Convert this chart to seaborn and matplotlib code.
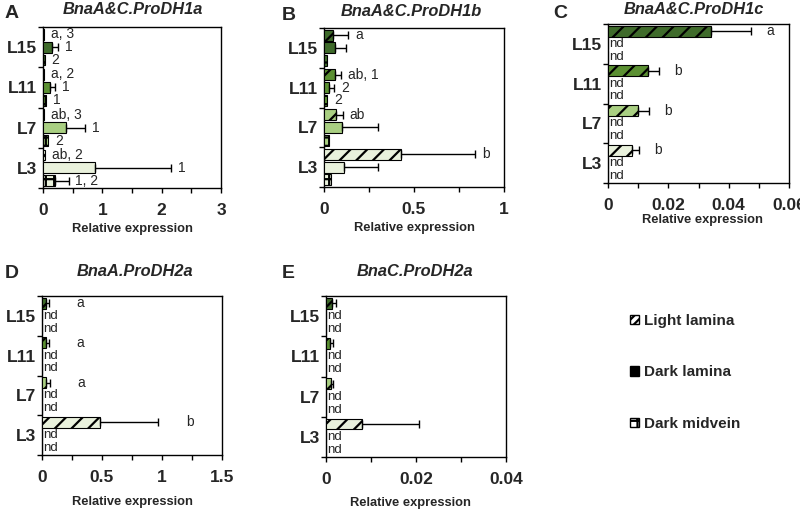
import numpy as np
import pandas as pd
import matplotlib
matplotlib.use("Agg")
import matplotlib.pyplot as plt
import seaborn as sns
from matplotlib.patches import Patch
from matplotlib.ticker import MultipleLocator, FixedLocator, FuncFormatter

# ---------------- data ----------------
leaves = ["L15", "L11", "L7", "L3"]
tissues = ["Light lamina", "Dark lamina", "Dark midvein"]
leaf_colors = ["#3f6b2b", "#5b9032", "#a9cf82", "#e9f1dc"]

# Panel A  BnaA&C.ProDH1a
A_light = [0.01, 0.01, 0.01, 0.04]
A_light_sd = [0, 0, 0, 0]
A_light_lbl = ["a, 3", "a, 2", "ab, 3", "ab, 2"]
A_dark = [0.15, 0.12, 0.38, 0.88]
A_dark_sd = [0.11, 0.09, 0.33, 1.28]
A_dark_lbl = ["1", "1", "1", "1"]
A_mid = [0.03, 0.05, 0.09, 0.20]
A_mid_sd = [0, 0, 0, 0.23]
A_mid_lbl = ["2", "1", "2", "1, 2"]

# Panel B  BnaA&C.ProDH1b
B_light = [0.050, 0.063, 0.065, 0.425]
B_light_sd = [0.084, 0.030, 0.040, 0.415]
B_light_lbl = ["a", "ab, 1", "ab", "b"]
B_dark = [0.060, 0.028, 0.100, 0.110]
B_dark_sd = [0.060, 0.028, 0.200, 0.190]
B_dark_lbl = ["", "2", "", ""]
B_mid = [0.019, 0.017, 0.028, 0.040]
B_mid_sd = [0, 0, 0, 0]
B_mid_lbl = ["", "2", "", ""]

# Panel C  BnaA&C.ProDH1c
C_light = [0.0343, 0.0133, 0.0100, 0.0078]
C_light_sd = [0.0132, 0.0036, 0.0036, 0.0025]
C_light_lbl = ["a", "b", "b", "b"]
C_dark = [0, 0, 0, 0]
C_dark_sd = [0, 0, 0, 0]
C_dark_lbl = ["nd", "nd", "nd", "nd"]
C_mid = [0, 0, 0, 0]
C_mid_sd = [0, 0, 0, 0]
C_mid_lbl = ["nd", "nd", "nd", "nd"]

# Panel D  BnaA.ProDH2a
D_light = [0.036, 0.036, 0.030, 0.486]
D_light_sd = [0.020, 0.020, 0.034, 0.480]
D_light_lbl = ["a", "a", "a", "b"]
D_dark = [0, 0, 0, 0]
D_dark_sd = [0, 0, 0, 0]
D_dark_lbl = ["nd", "nd", "nd", "nd"]
D_mid = [0, 0, 0, 0]
D_mid_sd = [0, 0, 0, 0]
D_mid_lbl = ["nd", "nd", "nd", "nd"]

# Panel E  BnaC.ProDH2a
E_light = [0.0013, 0.0009, 0.0011, 0.0081]
E_light_sd = [0.0009, 0.0006, 0.0005, 0.0126]
E_light_lbl = ["", "", "", ""]
E_dark = [0, 0, 0, 0]
E_dark_sd = [0, 0, 0, 0]
E_dark_lbl = ["nd", "nd", "nd", "nd"]
E_mid = [0, 0, 0, 0]
E_mid_sd = [0, 0, 0, 0]
E_mid_lbl = ["nd", "nd", "nd", "nd"]

titles = ["BnaA&C.ProDH1a", "BnaA&C.ProDH1b", "BnaA&C.ProDH1c",
          "BnaA.ProDH2a", "BnaC.ProDH2a"]
letters = ["A", "B", "C", "D", "E"]

# ---------------- style ----------------
sns.set_style("ticks")
plt.rcParams["font.family"] = ["Liberation Sans", "DejaVu Sans"]
plt.rcParams["hatch.linewidth"] = 1.6
plt.rcParams["axes.linewidth"] = 1.0

hatches = ["//", "", "++"]

fig = plt.figure(figsize=(8, 5.12), dpi=100)
W, H = 800.0, 512.0


def box(left, top, right, bottom):
    return [left / W, 1 - bottom / H, (right - left) / W, (bottom - top) / H]


panels = [
    dict(rect=box(43, 27, 221, 188), xlim=3, major=1, minor=0.5, pad=5,
         v=[A_light, A_dark, A_mid], s=[A_light_sd, A_dark_sd, A_mid_sd],
         l=[A_light_lbl, A_dark_lbl, A_mid_lbl],
         letter=(5, 14), title=(133, 9), xlab=(132, 229)),
    dict(rect=box(324, 28, 504, 187), xlim=1, major=0.5, minor=0.25, pad=5,
         v=[B_light, B_dark, B_mid], s=[B_light_sd, B_dark_sd, B_mid_sd],
         l=[B_light_lbl, B_dark_lbl, B_mid_lbl],
         letter=(282, 15), title=(411, 11), xlab=(414, 228)),
    dict(rect=box(608, 24, 789, 183), xlim=0.06, major=0.02, minor=0.01, pad=11,
         v=[C_light, C_dark, C_mid], s=[C_light_sd, C_dark_sd, C_mid_sd],
         l=[C_light_lbl, C_dark_lbl, C_mid_lbl],
         letter=(553, 14), title=(694, 10), xlab=(702, 220)),
    dict(rect=box(42, 296, 222, 455), xlim=1.5, major=0.5, minor=0.25, pad=20,
         v=[D_light, D_dark, D_mid], s=[D_light_sd, D_dark_sd, D_mid_sd],
         l=[D_light_lbl, D_dark_lbl, D_mid_lbl],
         letter=(5, 273), title=(135, 271), xlab=(132, 502)),
    dict(rect=box(326, 296, 506, 457), xlim=0.04, major=0.02, minor=0.01, pad=5,
         v=[E_light, E_dark, E_mid], s=[E_light_sd, E_dark_sd, E_mid_sd],
         l=[E_light_lbl, E_dark_lbl, E_mid_lbl],
         letter=(282, 273), title=(415, 272), xlab=(410, 503)),
]

fmt = FuncFormatter(lambda x, p: ("%g" % round(x, 6)))

for i, P in enumerate(panels):
    ax = fig.add_axes(P["rect"])
    rows = []
    for ti, t in enumerate(tissues):
        for li, lf in enumerate(leaves):
            rows.append(dict(leaf=lf, tissue=t, value=P["v"][ti][li]))
    df = pd.DataFrame(rows)
    sns.barplot(data=df, x="value", y="leaf", hue="tissue", order=leaves,
                hue_order=tissues, orient="h", errorbar=None, width=0.96,
                gap=0.15, saturation=1, legend=False, ax=ax,
                edgecolor="black", linewidth=0.8)
    bar_containers = list(ax.containers)
    for ti, cont in enumerate(bar_containers):
        for li, bar in enumerate(cont):
            bar.set_facecolor(leaf_colors[li])
            bar.set_edgecolor("black")
            bar.set_hatch(hatches[ti])
            bar.set_zorder(3)
            yc = bar.get_y() + bar.get_height() / 2
            val = P["v"][ti][li]
            sd = P["s"][ti][li]
            lbl = P["l"][ti][li]
            if sd > 0:
                ax.errorbar([val], [yc], xerr=[[0], [sd]], fmt="none",
                            ecolor="black", elinewidth=1.0, capsize=3,
                            capthick=1.0, zorder=4)
            if lbl == "nd":
                ax.annotate("nd", (0, yc), xytext=(1, 0),
                            textcoords="offset points", ha="left",
                            va="center", fontsize=9.5)
            elif lbl:
                ax.annotate(lbl, (val + sd, yc), xytext=(P["pad"], 0),
                            textcoords="offset points", ha="left",
                            va="center", fontsize=10)
    ax.set_xlim(0, P["xlim"])
    ax.set_ylim(3.5, -0.5)
    ax.xaxis.set_major_locator(MultipleLocator(P["major"]))
    ax.xaxis.set_minor_locator(MultipleLocator(P["minor"]))
    ax.xaxis.set_major_formatter(fmt)
    ax.yaxis.set_major_locator(FixedLocator([0, 1, 2, 3]))
    ax.set_yticklabels(leaves)
    ax.yaxis.set_minor_locator(FixedLocator([-0.5, 0.5, 1.5, 2.5, 3.5]))
    ax.tick_params(axis="x", which="both", direction="out", length=3.5,
                   width=1, color="black")
    ax.tick_params(axis="x", which="major", pad=7.5, labelsize=12.5)
    ax.tick_params(axis="y", which="major", length=0, pad=4.5, labelsize=12.5)
    ax.tick_params(axis="y", which="minor", direction="out", length=3.5,
                   width=1, color="black")
    for lab in ax.get_xticklabels() + ax.get_yticklabels():
        lab.set_fontweight("bold")
    ax.set_xlabel("")
    ax.set_ylabel("")
    for sp in ax.spines.values():
        sp.set_visible(True)
        sp.set_color("black")
        sp.set_linewidth(1.0)

    lx, ly = P["letter"]
    fig.text(lx / W, 1 - ly / H, letters[i], fontsize=14, fontweight="bold",
             ha="left", va="center")
    tx, ty = P["title"]
    fig.text(tx / W, 1 - ty / H, titles[i], fontsize=11.8, fontweight="bold",
             fontstyle="italic", ha="center", va="center")
    xx, xy = P["xlab"]
    fig.text(xx / W, 1 - xy / H, "Relative expression", fontsize=9.3,
             fontweight="bold", ha="center", va="center")

handles = [Patch(facecolor="white", edgecolor="black", hatch="////"),
           Patch(facecolor="black", edgecolor="black"),
           Patch(facecolor="white", edgecolor="black", hatch="++")]
fig.legend(handles, tissues, loc="upper left",
           bbox_to_anchor=(630 / W, 1 - 314 / H), frameon=False,
           prop=dict(weight="bold", size=11), handlelength=0.6,
           handleheight=0.6, handletextpad=0.3, labelspacing=2.45,
           borderpad=0, borderaxespad=0)

fig.savefig("out.png", dpi=100)
